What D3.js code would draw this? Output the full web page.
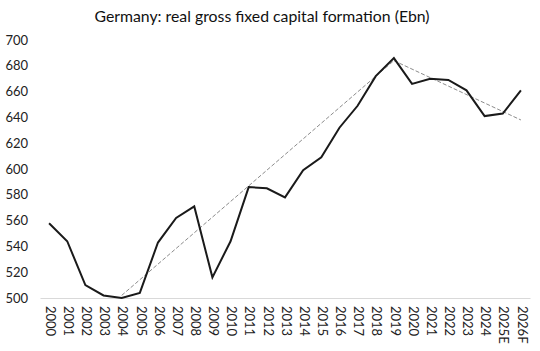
<!DOCTYPE html>
<html><head><meta charset="utf-8">
<script src="https://cdn.jsdelivr.net/npm/d3@7"></script>
<style>body{margin:0;background:#fff}svg{display:block}</style>
</head><body><svg id="c" width="540" height="351"></svg>
<script>
const title = "Germany: real gross fixed capital formation (Ebn)";
const categories = ["2000","2001","2002","2003","2004","2005","2006","2007","2008","2009","2010","2011","2012","2013","2014","2015","2016","2017","2018","2019","2020","2021","2022","2023","2024","2025E","2026F"];
const values = [558,544,510,502,500,504,543,562,571,516,544,586,585,578,599,609,632,649,672,686,666,670,669,661,641,643,661];
const trendUpCats = ["2004","2019"];
const trendUpVals = [502,684];
const trendDownCats = ["2019","2026F"];
const trendDownVals = [684,638];
const yTicks = [500,520,540,560,580,600,620,640,660,680,700];

const font = "Lato, 'Open Sans', sans-serif";
const svg = d3.select("#c");
const x = d3.scaleBand().domain(categories).range([40,530]);
const y = d3.scaleLinear().domain([500,700]).range([298,40]);
const cx = c => x(c) + x.bandwidth()/2;

svg.append("text").attr("x",262).attr("y",22).attr("text-anchor","middle")
  .attr("font-family",font).attr("font-size",15.8).attr("fill","#111").text(title);

// y axis labels
const ya = svg.append("g").attr("transform","translate(28,0)")
  .call(d3.axisLeft(y).tickValues(yTicks).tickSize(0).tickPadding(0));
ya.select(".domain").remove();
ya.selectAll("text").attr("font-family",font).attr("font-size",13).attr("fill","#222");

// x axis
const xa = svg.append("g").attr("transform","translate(0,298)")
  .call(d3.axisBottom(x).tickSize(0).tickPadding(0));
xa.select(".domain").attr("stroke","#d9d9d9");
xa.selectAll("text").attr("font-family",font).attr("font-size",13).attr("fill","#222")
  .attr("text-anchor","start").attr("dy",null)
  .attr("transform","translate(0,8) rotate(90)").attr("dominant-baseline","middle").attr("y",0).attr("x",0);

const line = d3.line().x(d=>cx(d[0])).y(d=>y(d[1]));
svg.append("path").datum(trendUpCats.map((c,i)=>[c,trendUpVals[i]]))
  .attr("d",line).attr("fill","none").attr("stroke","#8c8c8c").attr("stroke-width",1).attr("stroke-dasharray","4,2");
svg.append("path").datum(trendDownCats.map((c,i)=>[c,trendDownVals[i]]))
  .attr("d",line).attr("fill","none").attr("stroke","#8c8c8c").attr("stroke-width",1).attr("stroke-dasharray","4,2");
svg.append("path").datum(categories.map((c,i)=>[c,values[i]]))
  .attr("d",line).attr("fill","none").attr("stroke","#1a1a1a").attr("stroke-width",2).attr("stroke-linejoin","miter");
</script></body></html>
